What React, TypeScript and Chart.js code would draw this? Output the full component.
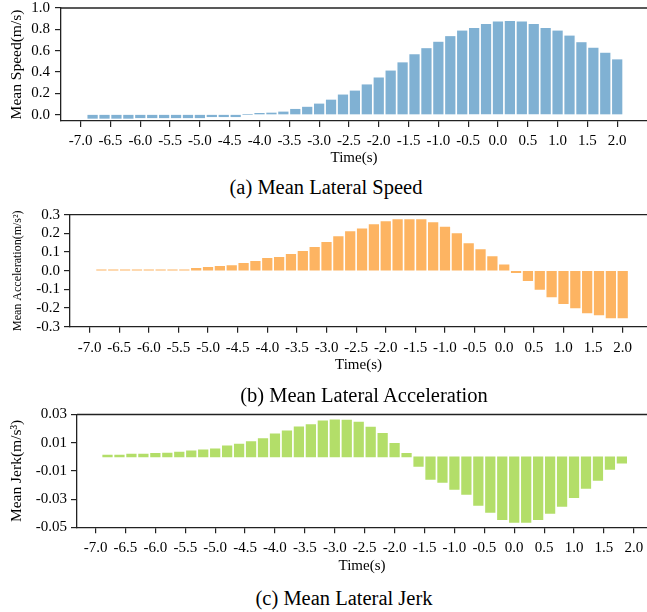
import React, { useEffect, useRef } from "react";
import { Chart, registerables } from "chart.js";

Chart.register(...registerables);

// ---------- data ----------
const timeSteps = [
  -6.8, -6.6, -6.4, -6.2, -6.0, -5.8, -5.6, -5.4, -5.2, -5.0, -4.8, -4.6, -4.4, -4.2, -4.0,
  -3.8, -3.6, -3.4, -3.2, -3.0, -2.8, -2.6, -2.4, -2.2, -2.0, -1.8, -1.6, -1.4, -1.2, -1.0,
  -0.8, -0.6, -0.4, -0.2, 0.0, 0.2, 0.4, 0.6, 0.8, 1.0, 1.2, 1.4, 1.6, 1.8, 2.0,
];

const jerkTimeSteps = [
  -6.8, -6.6, -6.4, -6.2, -6.0, -5.8, -5.6, -5.4, -5.2, -5.0, -4.8, -4.6, -4.4, -4.2, -4.0,
  -3.8, -3.6, -3.4, -3.2, -3.0, -2.8, -2.6, -2.4, -2.2, -2.0, -1.8, -1.6, -1.4, -1.2, -1.0,
  -0.8, -0.6, -0.4, -0.2, 0.0, 0.2, 0.4, 0.6, 0.8, 1.0, 1.2, 1.4, 1.6, 1.8,
];

const speedValues = [
  -0.035, -0.035, -0.035, -0.035, -0.03, -0.03, -0.03, -0.03, -0.03, -0.03, -0.02, -0.02, -0.02, 0.0, 0.012,
  0.015, 0.025, 0.05, 0.07, 0.1, 0.137, 0.185, 0.222, 0.28, 0.345, 0.41, 0.487, 0.563, 0.62, 0.68,
  0.733, 0.785, 0.81, 0.847, 0.87, 0.875, 0.87, 0.847, 0.81, 0.785, 0.738, 0.676, 0.624, 0.577, 0.515,
];

const accelValues = [
  0.005, 0.005, 0.005, 0.005, 0.005, 0.005, 0.005, 0.005, 0.013, 0.018, 0.023, 0.028, 0.039, 0.05, 0.066,
  0.072, 0.088, 0.104, 0.125, 0.152, 0.183, 0.21, 0.224, 0.247, 0.263, 0.274, 0.274, 0.274, 0.258, 0.234,
  0.199, 0.145, 0.113, 0.075, 0.032, -0.01, -0.054, -0.1, -0.14, -0.177, -0.2, -0.226, -0.237, -0.253, -0.253,
];

const jerkValues = [
  0.0013, 0.0013, 0.002, 0.002, 0.0025, 0.0027, 0.0034, 0.0042, 0.0049, 0.0056, 0.0077, 0.0091, 0.0108, 0.0129, 0.0163,
  0.0184, 0.0213, 0.0229, 0.0255, 0.0262, 0.026, 0.0246, 0.021, 0.0167, 0.0096, 0.0025, -0.0068, -0.016, -0.0182, -0.0231,
  -0.0267, -0.0345, -0.0395, -0.0445, -0.0466, -0.0466, -0.0445, -0.0402, -0.0352, -0.029, -0.0224, -0.0167, -0.009, -0.0046,
];

const xTickLabels = [
  -7.0, -6.5, -6.0, -5.5, -5.0, -4.5, -4.0, -3.5, -3.0, -2.5, -2.0, -1.5, -1.0, -0.5, 0.0, 0.5, 1.0, 1.5, 2.0,
];
const speedTicks = [0.0, 0.2, 0.4, 0.6, 0.8, 1.0];
const accelTicks = [-0.3, -0.2, -0.1, 0.0, 0.1, 0.2, 0.3];
const jerkTicks = [-0.05, -0.03, -0.01, 0.01, 0.03];

const captions = ["(a) Mean Lateral Speed", "(b) Mean Lateral Acceleration", "(c) Mean Lateral Jerk"];

// ---------- styling ----------
const SERIF = "'Liberation Serif', 'Times New Roman', serif";
const AXIS_COLOR = "#222222";

const topSpine = {
  id: "topSpine",
  afterDraw(chart: any) {
    const { ctx, chartArea } = chart;
    ctx.save();
    ctx.strokeStyle = AXIS_COLOR;
    ctx.lineWidth = 1.3;
    ctx.beginPath();
    ctx.moveTo(chartArea.left, chartArea.top);
    ctx.lineTo(chartArea.right, chartArea.top);
    ctx.stroke();
    ctx.restore();
  },
};

type PanelProps = {
  top: number;
  height: number;
  plotTop: number;
  xAxisHeight: number;
  yAxisWidth: number;
  xMin: number;
  xMax: number;
  yMin: number;
  yMax: number;
  yTicks: number[];
  decimals: number;
  times: number[];
  values: number[];
  color: string;
  yTitle: string;
  yTitleSize: number;
  yTitlePad: number;
  yTickPad: number;
  xTickPad: number;
  xTitlePad: number;
};

function Panel(p: PanelProps) {
  const ref = useRef<HTMLCanvasElement>(null);
  useEffect(() => {
    const tickFont = { family: SERIF, size: 15 };
    const chart = new Chart(ref.current as HTMLCanvasElement, {
      type: "bar",
      data: {
        datasets: [
          {
            data: p.times.map((t, i) => ({ x: t, y: p.values[i] })),
            backgroundColor: p.color,
            borderWidth: 0,
            barThickness: 9.6,
          } as any,
        ],
      },
      options: {
        animation: false,
        responsive: false,
        devicePixelRatio: 1,
        layout: { padding: { top: p.plotTop, left: 0, right: 0, bottom: 0 } },
        plugins: { legend: { display: false }, tooltip: { enabled: false } },
        scales: {
          x: {
            type: "linear",
            offset: false,
            min: p.xMin,
            max: p.xMax,
            afterBuildTicks: (s: any) => {
              s.ticks = xTickLabels.map((v) => ({ value: v }));
            },
            afterFit: (s: any) => {
              s.height = p.xAxisHeight;
              s.paddingLeft = 0;
              s.paddingRight = 0;
            },
            ticks: {
              autoSkip: false,
              maxRotation: 0,
              minRotation: 0,
              padding: p.xTickPad,
              color: "#000",
              font: tickFont,
              callback: (v: any) => Number(v).toFixed(1),
            },
            grid: {
              display: true,
              offset: false,
              drawOnChartArea: false,
              drawTicks: true,
              tickLength: 6,
              color: AXIS_COLOR,
              lineWidth: 1.2,
            },
            border: { display: true, color: AXIS_COLOR, width: 1.3 },
            title: {
              display: true,
              text: "Time(s)",
              color: "#000",
              font: { family: SERIF, size: 15 },
              padding: { top: 0, bottom: p.xTitlePad },
            },
          },
          y: {
            type: "linear",
            min: p.yMin,
            max: p.yMax,
            afterBuildTicks: (s: any) => {
              s.ticks = p.yTicks.map((v) => ({ value: v }));
            },
            afterFit: (s: any) => {
              s.width = p.yAxisWidth;
              s.paddingTop = 0;
              s.paddingBottom = 0;
            },
            ticks: {
              autoSkip: false,
              padding: p.yTickPad,
              color: "#000",
              font: tickFont,
              callback: (v: any) => Number(v).toFixed(p.decimals),
            },
            grid: {
              display: true,
              drawOnChartArea: false,
              drawTicks: true,
              tickLength: 6,
              color: AXIS_COLOR,
              lineWidth: 1.2,
            },
            border: { display: true, color: AXIS_COLOR, width: 1.3 },
            title: {
              display: true,
              text: p.yTitle,
              color: "#000",
              font: { family: SERIF, size: p.yTitleSize },
              padding: { top: p.yTitlePad, bottom: 0 },
            },
          },
        },
      } as any,
      plugins: [topSpine],
    });
    return () => chart.destroy();
  }, []);
  return (
    <canvas
      ref={ref}
      width={647}
      height={p.height}
      style={{ position: "absolute", left: 0, top: p.top, width: 647, height: p.height }}
    />
  );
}

function Caption({ text, cx, cy }: { text: string; cx: number; cy: number }) {
  return (
    <div
      style={{
        position: "absolute",
        left: cx - 200,
        top: cy - 12,
        width: 400,
        height: 24,
        lineHeight: "24px",
        textAlign: "center",
        fontFamily: SERIF,
        fontSize: 20.5,
        color: "#000",
        whiteSpace: "nowrap",
        zIndex: 2,
      }}
    >
      {text}
    </div>
  );
}

export default function App() {
  return (
    <div
      style={{
        position: "absolute",
        left: 0,
        top: 0,
        width: 647,
        height: 612,
        background: "#fff",
        overflow: "hidden",
      }}
    >
      <Panel
        top={0}
        height={170}
        plotTop={8}
        xAxisHeight={49}
        yAxisWidth={61}
        xMin={-7.33}
        xMax={2.5}
        yMin={-0.06}
        yMax={1.0}
        yTicks={speedTicks}
        decimals={1}
        times={timeSteps}
        values={speedValues}
        color="#80b1d3"
        yTitle="Mean Speed(m/s)"
        yTitleSize={15.5}
        yTitlePad={7.7}
        yTickPad={5}
        xTickPad={5}
        xTitlePad={3}
      />
      <Panel
        top={200}
        height={180}
        plotTop={14.7}
        xAxisHeight={53.3}
        yAxisWidth={70}
        xMin={-7.33}
        xMax={2.41}
        yMin={-0.3}
        yMax={0.3}
        yTicks={accelTicks}
        decimals={1}
        times={timeSteps}
        values={accelValues}
        color="#fdb462"
        yTitle="Mean Acceleration(m/s²)"
        yTitleSize={12}
        yTitlePad={10.8}
        yTickPad={4}
        xTickPad={6.3}
        xTitlePad={6}
      />
      <Panel
        top={400}
        height={180}
        plotTop={14.5}
        xAxisHeight={52.7}
        yAxisWidth={77}
        xMin={-7.31}
        xMax={2.22}
        yMin={-0.05}
        yMax={0.03}
        yTicks={jerkTicks}
        decimals={2}
        times={jerkTimeSteps}
        values={jerkValues}
        color="#b3de69"
        yTitle="Mean Jerk(m/s³)"
        yTitleSize={15.5}
        yTitlePad={7.7}
        yTickPad={4}
        xTickPad={5.7}
        xTitlePad={5}
      />
      <Caption text={captions[0]} cx={326} cy={187} />
      <Caption text={captions[1]} cx={364} cy={395} />
      <Caption text={captions[2]} cx={344} cy={598} />
    </div>
  );
}
